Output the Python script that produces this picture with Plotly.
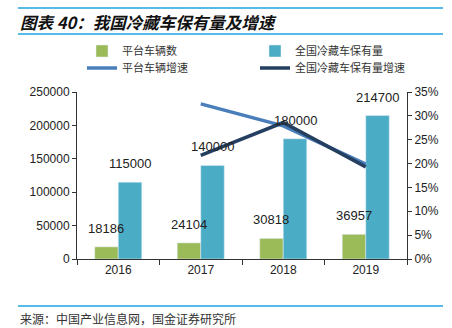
import plotly.graph_objects as go

years = ["2016", "2017", "2018", "2019"]
platform = [18186, 24104, 30818, 36957]
national = [115000, 140000, 180000, 214700]
platform_growth = [None, 0.325, 0.279, 0.199]
national_growth = [None, 0.217, 0.286, 0.193]

GREEN = "#9BBB59"
BLUE = "#4BACC6"
LBLUE = "#4A7EBB"
DBLUE = "#243F60"
CJK = "Noto Sans CJK SC"
LAT = "Liberation Sans, Arial"

fig = go.Figure()
fig.add_trace(go.Bar(x=years, y=platform, name="平台车辆数", marker_color=GREEN,
                     legend="legend"))
fig.add_trace(go.Bar(x=years, y=national, name="全国冷藏车保有量", marker_color=BLUE,
                     legend="legend2"))
fig.add_trace(go.Scatter(x=years, y=platform_growth, name="平台车辆增速", mode="lines",
                         line=dict(color=LBLUE, width=3.5), yaxis="y2", legend="legend3"))
fig.add_trace(go.Scatter(x=years, y=national_growth, name="全国冷藏车保有量增速", mode="lines",
                         line=dict(color=DBLUE, width=3.5), yaxis="y2", legend="legend4"))

# value labels above bars (annotations drawn above all traces); x = category index
for series, shift in ((platform, -11.8), (national, 11.8)):
    for i, v in enumerate(series):
        fig.add_annotation(x=i, y=v, xref="x", yref="y", text=str(v), showarrow=False,
                           xshift=shift, yshift=9, yanchor="bottom",
                           font=dict(family=LAT, size=13, color="#222"))

def py(p):
    return (259 - p) / 167.0

def px(p):
    return (p - 77) / 330.0

def leg(xp, yp):
    return dict(orientation="h", x=px(xp), y=py(yp), yanchor="middle", xanchor="left",
                bgcolor="rgba(0,0,0,0)", font=dict(family=CJK, size=11, color="#333"))

fig.update_layout(
    width=452, height=328,
    margin=dict(l=77, r=45, t=92, b=69),
    paper_bgcolor="white", plot_bgcolor="white",
    barmode="group", bargap=0.43, bargroupgap=0,
    font=dict(family=LAT, size=12, color="#222"),
    xaxis=dict(type="category", range=[-0.5, 3.5], showline=True, linecolor="#333", linewidth=1,
               ticks="outside", ticklen=5, tickcolor="#333", tickson="boundaries",
               tickfont=dict(family=LAT, size=12, color="#222"), showgrid=False),
    yaxis=dict(range=[0, 250000], dtick=50000, tickformat="d", showline=True, linecolor="#333",
               ticks="outside", ticklen=4, tickcolor="#333", showgrid=False, zeroline=False,
               tickfont=dict(family=LAT, size=12, color="#222")),
    yaxis2=dict(range=[0, 0.35], dtick=0.05, tickformat=".0%", overlaying="y", side="right",
                showline=True, linecolor="#333", ticks="outside", ticklen=4, tickcolor="#333",
                showgrid=False, zeroline=False,
                tickfont=dict(family=LAT, size=12, color="#222")),
    legend=leg(82, 51),
    legend2=leg(255, 51),
    legend3=leg(82, 68),
    legend4=leg(255, 68),
    showlegend=True,
)

fig.add_annotation(text="<b><i>图表 40：我国冷藏车保有量及增速</i></b>", xref="paper", yref="paper",
                   x=px(18), y=py(22), xanchor="left", yanchor="middle", showarrow=False,
                   font=dict(family=CJK, size=16.5, color="#111"))
fig.add_annotation(text="来源：中国产业信息网，国金证券研究所", xref="paper", yref="paper",
                   x=px(18), y=py(318), xanchor="left", yanchor="middle", showarrow=False,
                   font=dict(family=CJK, size=12, color="#333"))
for yy in (8, 34, 306):
    fig.add_shape(type="line", xref="paper", yref="paper", x0=px(18), x1=px(443),
                  y0=py(yy), y1=py(yy), line=dict(color="#1FA5E0", width=1.5))

fig.write_html("out.html")
